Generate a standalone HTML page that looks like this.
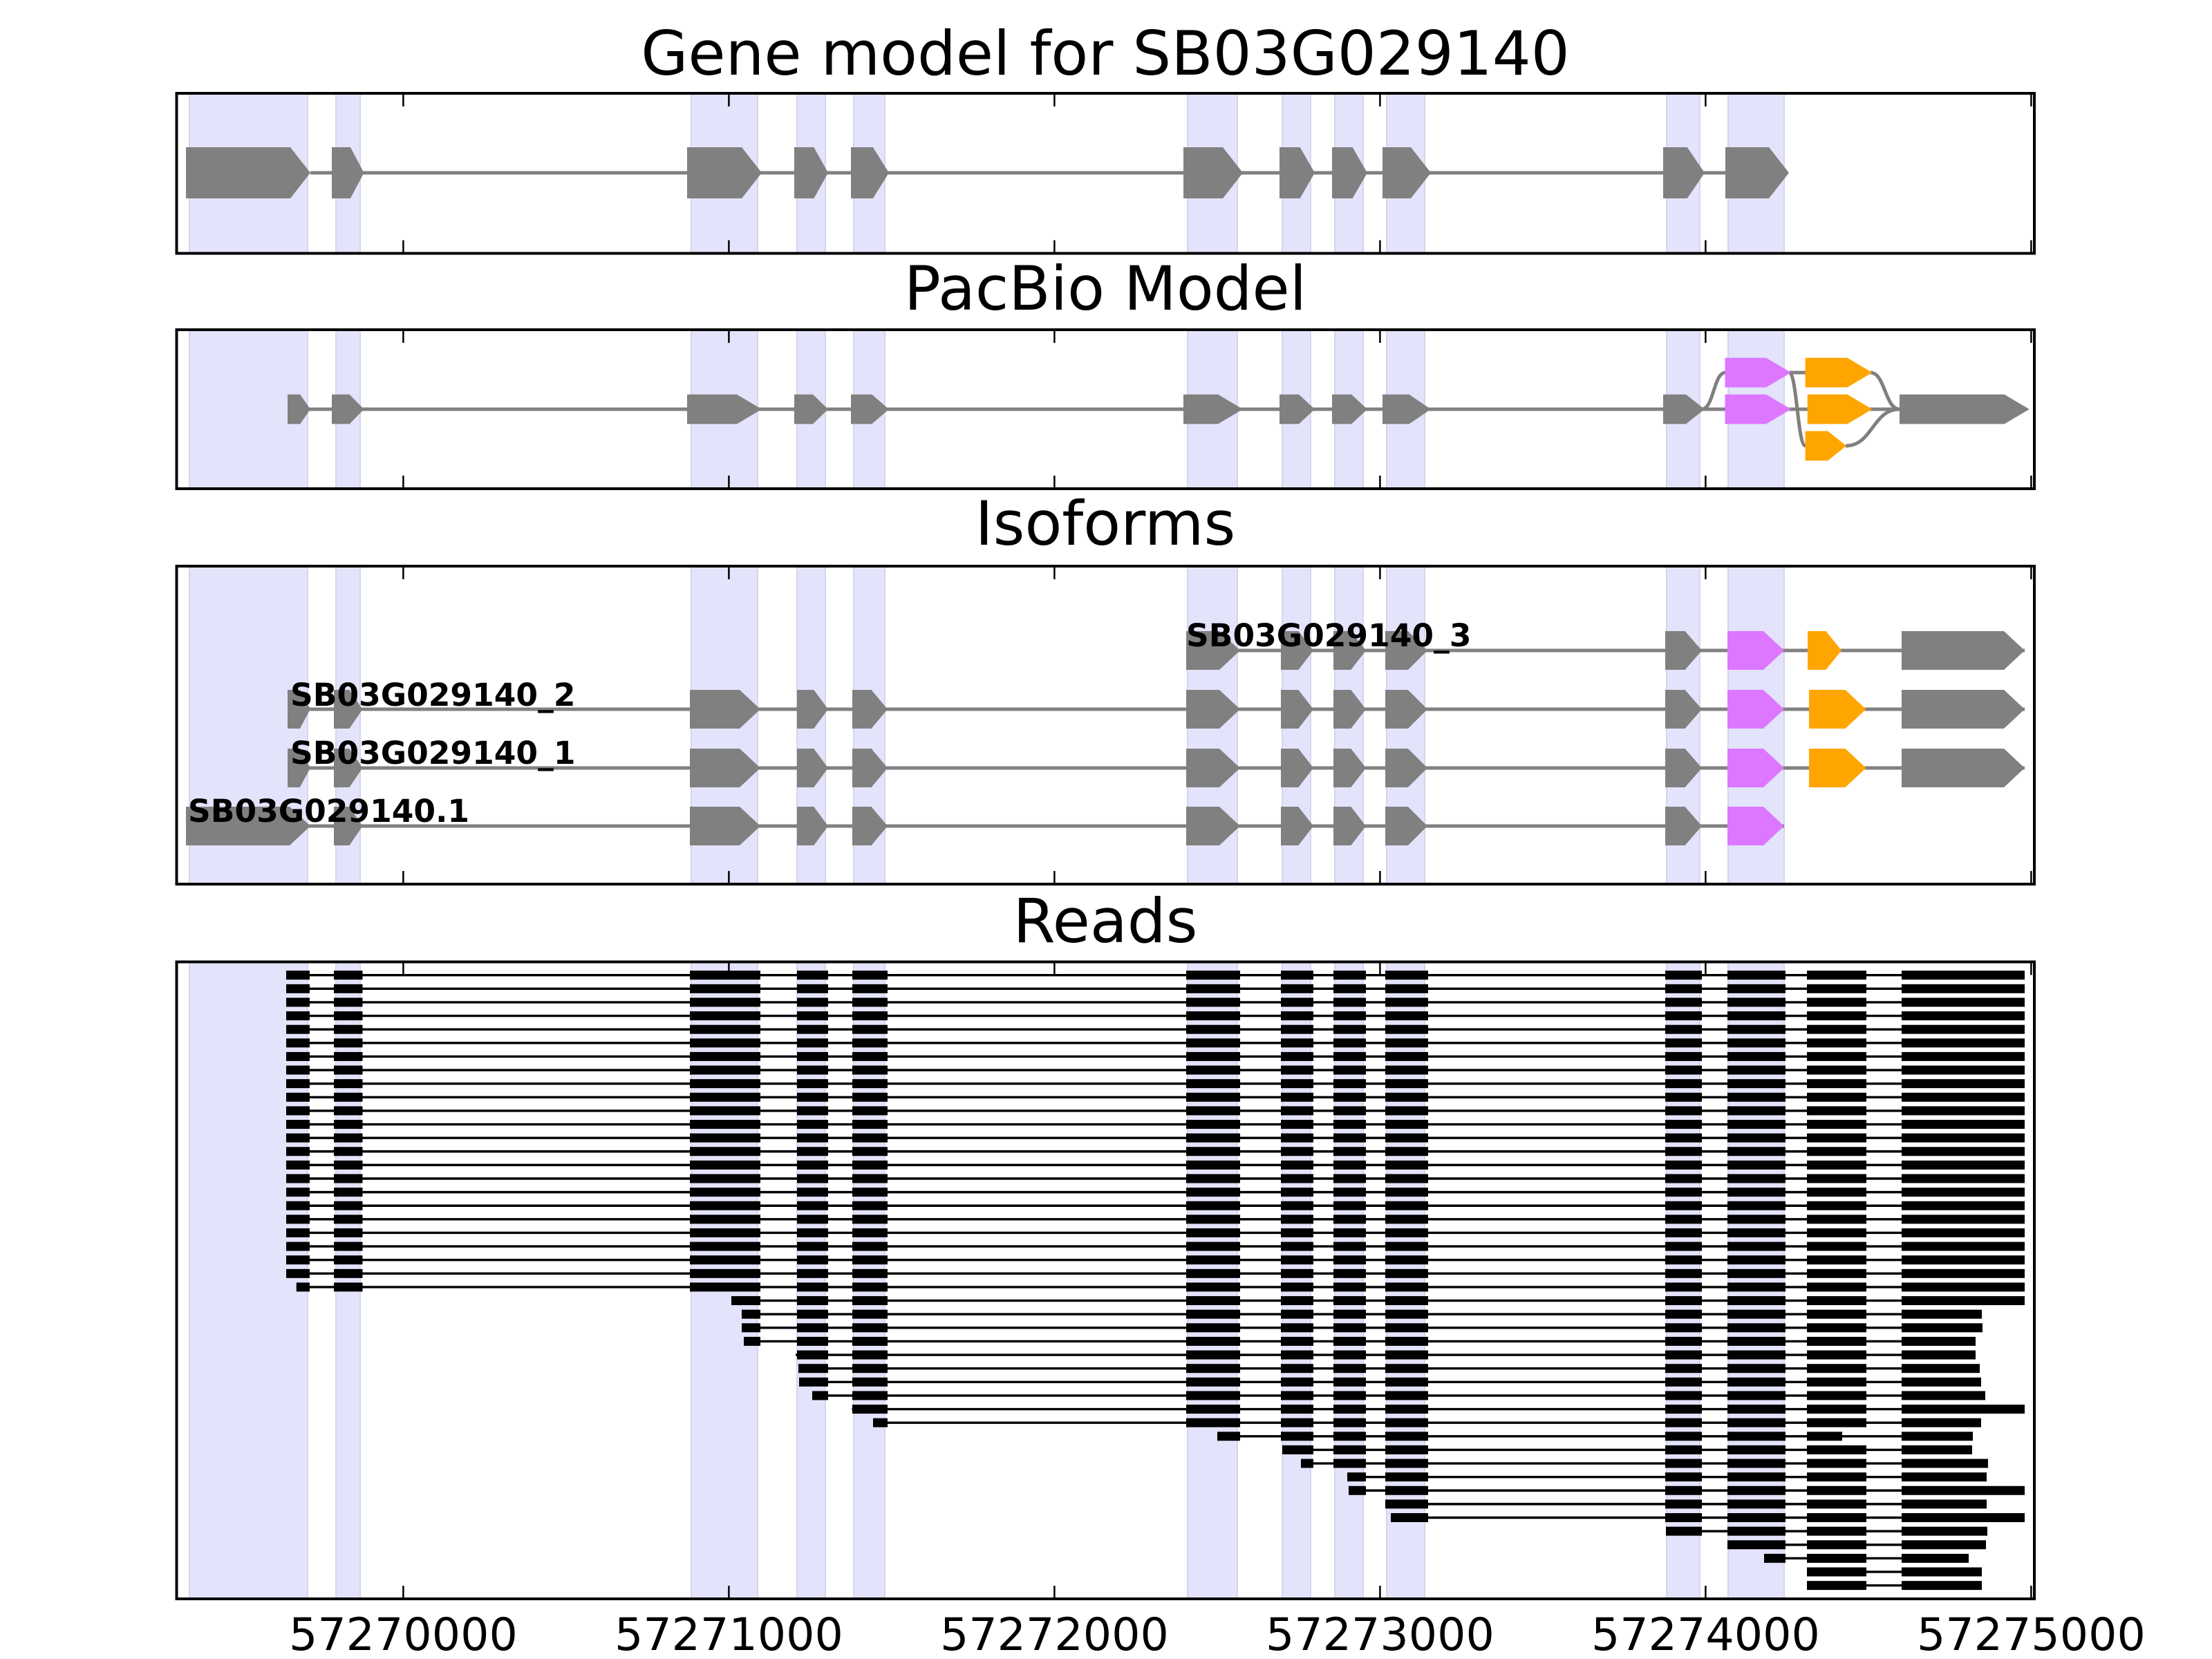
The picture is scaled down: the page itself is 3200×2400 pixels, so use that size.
<!DOCTYPE html>
<html><head><meta charset="utf-8"><style>
html,body{margin:0;padding:0;background:#fff;}
svg{display:block;}
text{font-family:"DejaVu Sans","Liberation Sans",sans-serif;}
</style></head><body>
<svg id="s" xmlns="http://www.w3.org/2000/svg" width="3200" height="2400" viewBox="0 0 3200 2400">
<rect width="3200" height="2400" fill="#fff"/>
<g id="shapes"></g>
<g font-size="88" text-anchor="middle" fill="#000">
<text x="1599" y="108">Gene model for SB03G029140</text>
<text x="1599" y="448">PacBio Model</text>
<text x="1599" y="788">Isoforms</text>
<text x="1599" y="1363">Reads</text>
</g>
<g font-size="65" text-anchor="middle" fill="#000">
<text x="583.4" y="2387">57270000</text>
<text x="1054.4" y="2387">57271000</text>
<text x="1525.4" y="2387">57272000</text>
<text x="1996.4" y="2387">57273000</text>
<text x="2467.4" y="2387">57274000</text>
<text x="2938.4" y="2387">57275000</text>
</g>
<g id="labels" font-size="45.5" font-weight="bold" fill="#000">
<text x="1716" y="935">SB03G029140_3</text>
<text x="420" y="1021">SB03G029140_2</text>
<text x="420" y="1105">SB03G029140_1</text>
<text x="272" y="1189">SB03G029140.1</text>
</g>
</svg>
<script>
(function(){
var NS="http://www.w3.org/2000/svg";
var g=document.getElementById("shapes");
function el(n,a){var e=document.createElementNS(NS,n);for(var k in a)e.setAttribute(k,a[k]);g.appendChild(e);return e;}
var L=255.5,R=2943;
var panels=[[135,366.5],[477,707],[819,1279],[1391.5,2313]];
var shades=[[274,445],[486,521],[1000,1096],[1153,1194],[1235,1280],[1718,1790],[1855,1896],[1931,1972],[2006,2061],[2411,2459],[2500,2581]];
panels.forEach(function(p){
  shades.forEach(function(s){
    el("rect",{x:s[0],y:p[0],width:s[1]-s[0],height:p[1]-p[0],fill:"#e3e3fc",stroke:"#d5d5ec","stroke-width":2});
  });
});
var GR="#808080";
function exon(x0,x1,cy,h,cap,frac,col){
  var w=x1-x0,t=Math.min(cap,frac*w);
  el("polygon",{points:[x0,cy-h,x1-t,cy-h,x1,cy,x1-t,cy+h,x0,cy+h].join(" "),fill:col||GR});
}
function line(x0,x1,y,w,c){el("line",{x1:x0,x2:x1,y1:y,y2:y,stroke:c||GR,"stroke-width":w});}
function curve(x0,y0,x1,y1){var m=(x0+x1)/2;el("path",{d:"M"+x0+" "+y0+" C"+m+" "+y0+" "+m+" "+y1+" "+x1+" "+y1,fill:"none",stroke:GR,"stroke-width":5});}
var mid=[[994,1102],[1149,1198],[1231,1286],[1712,1798],[1851,1902],[1927,1978],[2000,2070],[2406,2466]];
// Panel 1
line(449,2496,250,5);
exon(269,449,250,37,29,0.42);exon(480,526.5,250,37,29,0.42);
mid.forEach(function(e){exon(e[0],e[1],250,37,29,0.42);});
exon(2496,2588,250,37,29,0.42);
// Panel 2
var c=592,tp=539,bt=645,h2=21.4;
line(436,2406,c,5);
exon(416,449,c,h2,36,0.45);exon(480,526.5,c,h2,36,0.45);
mid.forEach(function(e){exon(e[0],e[1],c,h2,36,0.45);});
curve(2462,c,2496,tp);
line(2462,2748,c,5);
line(2588,2612,tp,5);
curve(2588,tp,2612,bt);
curve(2706,tp,2748,c);
curve(2670,bt,2748,c);
exon(2495.5,2591,tp,h2,36,0.45,"#dd77ff");
exon(2495.5,2591,c,h2,36,0.45,"#dd77ff");
exon(2611.6,2708.5,tp,h2,36,0.45,"#ffa500");
exon(2614.7,2708.5,c,h2,36,0.45,"#ffa500");
exon(2611.6,2671,bt,h2,36,0.45,"#ffa500");
exon(2748,2935.7,c,h2,36,0.45);
// Panel 3
var imid=[[998,1100],[1153,1198],[1233,1284],[1716,1794],[1853,1900],[1929,1976],[2004,2065],[2409,2462]];
var rows=[941,1026,1111,1195],h3=28;
function iso(y,first,orange,last){
  var x0=first[0][0],x1=last?2929:2581;
  line(x0,x1,y,5);
  first.forEach(function(e){exon(e[0],e[1],y,h3,30,0.46);});
  exon(2499,2581,y,h3,30,0.46,"#dd77ff");
  if(orange)exon(orange[0],orange[1],y,h3,30,0.46,"#ffa500");
  if(last)exon(2751,2929,y,h3,30,0.46);
}
iso(rows[0],imid.slice(3),[2615,2664],true);
iso(rows[1],[[416,449],[483,524.5]].concat(imid),[2617,2699.5],true);
iso(rows[2],[[416,449],[483,524.5]].concat(imid),[2617,2699.5],true);
iso(rows[3],[[269,449],[483,524.5]].concat(imid),null,false);
// Panel 4 reads
var RE=[[414,448],[483,524.5],[998,1100],[1153,1198],[1233,1284],[1716,1794],[1853,1900],[1929,1976],[2004,2066],[2409,2462],[2499,2583],[2614,2700],[2751,2929]];
var starts=[],ends=[];
for(var i=0;i<46;i++){starts.push(414);ends.push(2929);}
var st={23:428.8,24:1058,25:1073,26:1073,27:1076,28:1151,29:1155,30:1156,31:1175,32:1232.5,33:1263,34:1761,35:1855,36:1882,37:1949,38:1951,39:2004,40:2012,41:2410,42:2499,43:2552,44:2614,45:2614};
var en={25:2867,26:2868,27:2858,28:2858,29:2864,30:2866,31:2872,33:2866,34:2854,35:2853,36:2876,37:2874,39:2874,41:2875,42:2873,43:2848,44:2867,45:2867};
for(var k in st)starts[k]=st[k];
for(var k in en)ends[k]=en[k];
for(var i=0;i<46;i++){
  var y=1410.7+19.62*i,s=starts[i],e=ends[i];
  line(s,e,y,3.4,"#000");
  RE.forEach(function(r,j){
    var a=Math.max(r[0],s),b=Math.min(r[1],e);
    if(j==12)b=e;
    if(i==34&&j==11)b=2665;
    if(b>a)el("rect",{x:a,y:y-6.5,width:b-a,height:13,fill:"#000"});
  });
}
// borders & ticks
var ticks=[583.4,1054.4,1525.4,1996.4,2467.4,2938.4];
panels.forEach(function(p){
  ticks.forEach(function(t){
    line(t,t,0,0);
    el("line",{x1:t,x2:t,y1:p[0],y2:p[0]+19,stroke:"#000","stroke-width":2.5});
    el("line",{x1:t,x2:t,y1:p[1]-19,y2:p[1],stroke:"#000","stroke-width":2.5});
  });
  el("rect",{x:L,y:p[0],width:R-L,height:p[1]-p[0],fill:"none",stroke:"#000","stroke-width":4});
});
})();
</script>
</body></html>
